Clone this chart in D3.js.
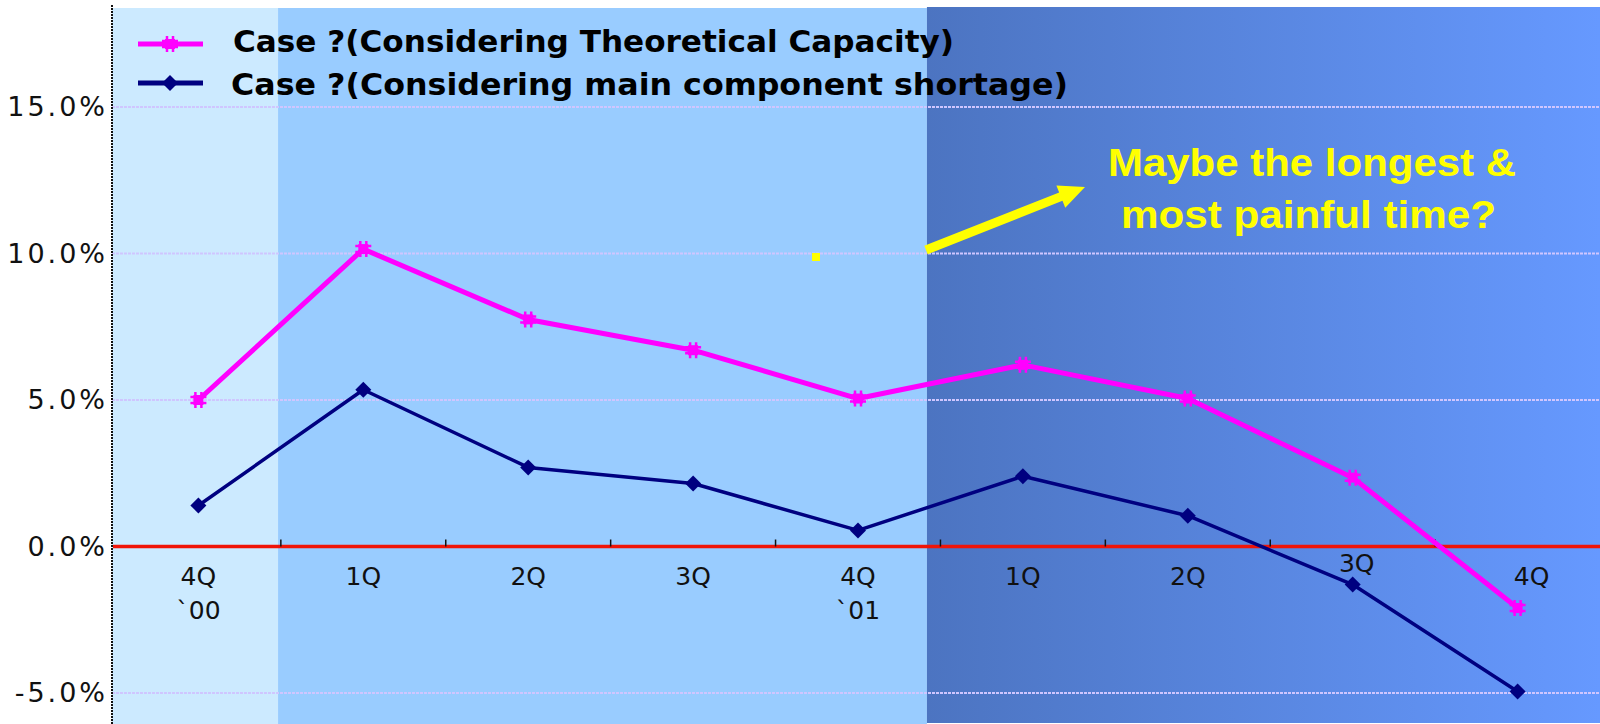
<!DOCTYPE html>
<html><head><meta charset="utf-8">
<script src="https://cdn.jsdelivr.net/npm/d3@7"></script>
<style>body{margin:0;background:#fff}svg{display:block}</style>
</head><body>
<svg id="c" width="1600" height="724"></svg>
<script>
// ---- data ----
const categories = ["4Q","1Q","2Q","3Q","4Q","1Q","2Q","3Q","4Q"];
const yearLabels = ["`00","","","","`01","","","",""];
const theoretical = [5.0, 10.15, 7.75, 6.7, 5.05, 6.2, 5.05, 2.35, -2.1];
const shortage = [1.4, 5.35, 2.7, 2.15, 0.55, 2.4, 1.05, -1.3, -4.95];
const yTicks = [-5, 0, 5, 10, 15];
const seriesNames = ["Case ?(Considering Theoretical Capacity)", "Case ?(Considering main component shortage)"];
const annotationLines = ["Maybe the longest &", "most painful time?"];
// period shading edges, in category-index units
const periodEdges = [-0.5, 0.483, 4.418, 8.5];

const svg = d3.select("#c");
const W = 1600, H = 724;
const axisX = 112, plotTop = 8;
const x = d3.scalePoint().domain(d3.range(categories.length)).range([198.4, 1517.6]);
const step = x.step();
const xi = i => x(0) + i * step;
const y = d3.scaleLinear().domain([-5, 15]).range([693, 107]);

// backgrounds
const defs = svg.append("defs");
const g = defs.append("linearGradient").attr("id","dark").attr("x1","0").attr("x2","1").attr("y1","0").attr("y2","0");
g.append("stop").attr("offset","0").attr("stop-color","#4c74c1");
g.append("stop").attr("offset","1").attr("stop-color","#6699ff");
const fills = ["#cceaff", "#99ccff", "url(#dark)"];
for (let k = 0; k < 3; k++) {
  const x0 = k === 0 ? axisX : xi(periodEdges[k]);
  const x1 = k === 2 ? W : xi(periodEdges[k+1]);
  svg.append("rect").attr("x", x0).attr("y", k === 2 ? plotTop - 1 : plotTop)
    .attr("width", x1 - x0).attr("height", H - plotTop).attr("fill", fills[k]);
}

// gridlines
svg.append("g").selectAll("line").data(yTicks.filter(d => d !== 0)).join("line")
  .attr("x1", axisX).attr("x2", W).attr("y1", d => y(d)).attr("y2", d => y(d))
  .attr("stroke", "#cfc6ff").attr("stroke-width", 2).attr("stroke-dasharray", "3,1");

// y labels
svg.append("g").selectAll("text").data(yTicks).join("text")
  .attr("x", 108).attr("y", d => y(d) + 9)
  .attr("text-anchor", "end")
  .attr("font-family", "DejaVu Sans, sans-serif").attr("font-size", 27)
  .attr("letter-spacing", 3).attr("fill", "#111")
  .text(d => d.toFixed(1) + "%");

// y axis line
svg.append("line").attr("x1", axisX).attr("x2", axisX).attr("y1", 5).attr("y2", H)
  .attr("stroke", "#111").attr("stroke-width", 2).attr("stroke-dasharray", "2,1");

// zero line
svg.append("line").attr("x1", axisX + 1).attr("x2", W).attr("y1", y(0)).attr("y2", y(0))
  .attr("stroke", "#f01408").attr("stroke-width", 3.5);

// x ticks
svg.append("g").selectAll("line").data(d3.range(categories.length - 1)).join("line")
  .attr("x1", i => xi(i + 0.5)).attr("x2", i => xi(i + 0.5))
  .attr("y1", y(0) - 7).attr("y2", y(0))
  .attr("stroke", "#111").attr("stroke-width", 1.5);

// x labels
const xl = svg.append("g").attr("font-family", "DejaVu Sans, sans-serif").attr("font-size", 25).attr("fill", "#111").attr("text-anchor", "middle");
categories.forEach((c, i) => {
  const dx = i === categories.length - 1 ? 14 : (i === 7 ? 4 : 0);
  const dy = i === 7 ? -13 : 0;
  xl.append("text").attr("x", x(i) + dx).attr("y", y(0) + 38 + dy).text(c);
  if (yearLabels[i]) xl.append("text").attr("x", x(i)).attr("y", y(0) + 72).text(yearLabels[i]);
});

// markers
function starPath(cx, cy) {
  return `M${cx-8},${cy-3}H${cx+8}M${cx-8},${cy+3}H${cx+8}M${cx-3},${cy-8}V${cy+8}M${cx+3},${cy-8}V${cy+8}`;
}
function drawStar(sel, cx, cy) {
  sel.append("rect").attr("x", cx-5).attr("y", cy-5).attr("width", 10).attr("height", 10).attr("fill", "#ff00ff");
  sel.append("path").attr("d", starPath(cx, cy)).attr("stroke", "#ff00ff").attr("stroke-width", 2.5).attr("fill", "none");
}
function drawDiamond(sel, cx, cy) {
  sel.append("path").attr("d", `M${cx},${cy-8}L${cx+8},${cy}L${cx},${cy+8}L${cx-8},${cy}Z`).attr("fill", "#000080");
}

const line = d3.line().x((d, i) => x(i)).y(d => y(d));
svg.append("path").datum(shortage).attr("d", line).attr("fill", "none").attr("stroke", "#000080").attr("stroke-width", 3.5).attr("stroke-linejoin", "round");
const gs = svg.append("g");
shortage.forEach((v, i) => drawDiamond(gs, x(i), y(v)));

svg.append("path").datum(theoretical).attr("d", line).attr("fill", "none").attr("stroke", "#ff00ff").attr("stroke-width", 5).attr("stroke-linejoin", "round");
const gt = svg.append("g");
theoretical.forEach((v, i) => drawStar(gt, x(i), y(v)));

// legend
const lg = svg.append("g");
lg.append("line").attr("x1", 138).attr("x2", 203).attr("y1", 44).attr("y2", 44).attr("stroke", "#ff00ff").attr("stroke-width", 5);
drawStar(lg, 170, 44);
lg.append("line").attr("x1", 138).attr("x2", 203).attr("y1", 83).attr("y2", 83).attr("stroke", "#000080").attr("stroke-width", 5);
drawDiamond(lg, 170, 83);
lg.append("text").attr("x", 233).attr("y", 52).attr("font-family", "DejaVu Sans, sans-serif").attr("font-weight", "bold")
  .attr("font-size", 31).attr("fill", "#000").attr("textLength", 721).attr("lengthAdjust", "spacingAndGlyphs").text(seriesNames[0]);
lg.append("text").attr("x", 231).attr("y", 95).attr("font-family", "DejaVu Sans, sans-serif").attr("font-weight", "bold")
  .attr("font-size", 31).attr("fill", "#000").attr("textLength", 837).attr("lengthAdjust", "spacingAndGlyphs").text(seriesNames[1]);

// annotation
const an = svg.append("g").attr("font-family", "Liberation Sans, Arial, sans-serif").attr("font-weight", "bold").attr("font-size", 39).attr("fill", "#ffff00");
an.append("text").attr("x", 1108).attr("y", 176).attr("textLength", 408).attr("lengthAdjust", "spacingAndGlyphs").text(annotationLines[0]);
an.append("text").attr("x", 1121).attr("y", 228).attr("textLength", 375).attr("lengthAdjust", "spacingAndGlyphs").text(annotationLines[1]);

// arrow
(function(){
  const x0 = 926, y0 = 250, x1 = 1085, y1 = 187;
  const ang = Math.atan2(y1 - y0, x1 - x0);
  const L = Math.hypot(x1 - x0, y1 - y0);
  const hl = 26, hw = 12, sw = 4.5;
  const pts = [[0,-sw],[L-hl,-sw],[L-hl,-hw],[L,0],[L-hl,hw],[L-hl,sw],[0,sw]];
  const p = pts.map(([u,v]) => [x0 + u*Math.cos(ang) - v*Math.sin(ang), y0 + u*Math.sin(ang) + v*Math.cos(ang)]);
  svg.append("polygon").attr("points", p.map(d => d.join(",")).join(" ")).attr("fill", "#ffff00");
})();
svg.append("rect").attr("x", 812).attr("y", 253).attr("width", 8).attr("height", 8).attr("fill", "#ffff00");
</script>
</body></html>
